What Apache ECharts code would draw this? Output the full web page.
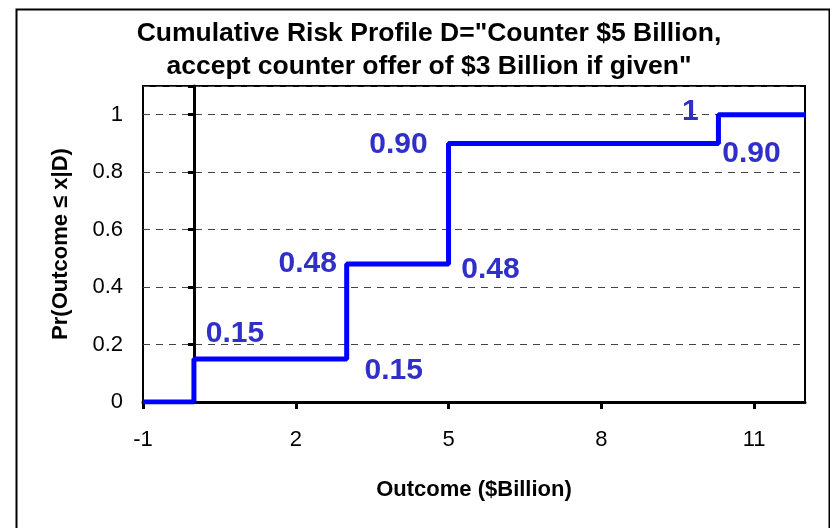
<!DOCTYPE html>
<html>
<head>
<meta charset="utf-8">
<script src="https://cdn.jsdelivr.net/npm/echarts@6/dist/echarts.min.js"></script>
<style>
  html, body { margin: 0; padding: 0; background: #fff; }
  #chart { width: 830px; height: 528px; }
</style>
</head>
<body>
<div id="chart"></div>
<script>
// Outcomes ($Billion) where the cumulative probability steps up, and the level reached
const stepOutcomes = [0, 3, 5, 10.3];
const stepProbs = [0.15, 0.48, 0.90, 1.00];

// Axis ranges and ticks
const xMin = -1, xMax = 12, xInterval = 3;
const yMin = 0, yMax = 1.1, yInterval = 0.2;

const titleText = 'Cumulative Risk Profile D="Counter $5 Billion,\naccept counter offer of $3 Billion if given"';
const xName = 'Outcome ($Billion)';
const yName = 'Pr(Outcome \u2264 x|D)';

// Step curve: starts at 0 on the left edge, ends at 1 on the right edge
const curve = [[xMin, 0]];
stepOutcomes.forEach((x, i) => curve.push([x, stepProbs[i]]));
curve.push([xMax, stepProbs[stepProbs.length - 1]]);

// Value labels sit at the corners of each riser: below-corner (previous level) and top-corner (new level)
const corners = [];
stepOutcomes.forEach((x, i) => {
  if (i > 0) corners.push([x, stepProbs[i - 1]]);
  corners.push([x, stepProbs[i]]);
});
// label offsets (px) for each corner, in the same order
const labelOffsets = [[41, -25], [47, 12], [-39, 0], [42, 6], [-50, 1], [33, 10], [-28, -3]];

const fmtProb = v => (v === 1 ? '1' : v.toFixed(2));
const FONT = "'Liberation Sans', Arial, sans-serif";

// plot box
const GRID = { left: 143, right: 25, top: 86, bottom: 126 };
const plotWidth = 830 - GRID.left - GRID.right;
// the vertical axis line is drawn through x = 0
const zeroOffset = -((0 - xMin) / (xMax - xMin)) * plotWidth;

const chart = echarts.init(document.getElementById('chart'), null, { renderer: 'canvas' });
chart.setOption({
  animation: false,
  backgroundColor: '#fff',
  textStyle: { fontFamily: FONT },
  title: {
    text: titleText,
    left: 429,
    textAlign: 'center',
    top: 17,
    padding: 0,
    textStyle: { fontFamily: FONT, fontSize: 26.5, fontWeight: 'bold', color: '#000', lineHeight: 33, align: 'center' }
  },
  graphic: [{
    type: 'rect',
    left: 14, top: 7,
    shape: { width: 813, height: 600 },
    style: { fill: 'none', stroke: '#000', lineWidth: 2 },
    silent: true
  }],
  grid: Object.assign({}, GRID, {
    show: true, borderColor: '#000', borderWidth: 2, backgroundColor: '#fff'
  }),
  xAxis: {
    type: 'value', min: xMin, max: xMax, interval: xInterval,
    name: xName, nameLocation: 'middle', nameGap: 77,
    nameTextStyle: { fontFamily: FONT, fontSize: 22, fontWeight: 'bold', color: '#000' },
    axisLine: { show: true, onZero: false, lineStyle: { color: '#000', width: 3 } },
    axisTick: { show: true, length: 7, lineStyle: { color: '#000', width: 3 } },
    axisLabel: { fontFamily: FONT, fontSize: 22, color: '#000', margin: 27, showMaxLabel: false },
    splitLine: { show: false }
  },
  yAxis: [{
    type: 'value', min: yMin, max: yMax, interval: yInterval, position: 'left',
    name: yName, nameLocation: 'middle', nameGap: 71, nameRotate: 90,
    nameTextStyle: { fontFamily: FONT, fontSize: 22, fontWeight: 'bold', color: '#000' },
    axisLine: { show: false },
    axisTick: { show: false },
    axisLabel: { fontFamily: FONT, fontSize: 22, color: '#000', margin: 20, showMaxLabel: false },
    splitLine: { show: true, lineStyle: { color: '#444', width: 1, type: [7, 6] } }
  }, {
    type: 'value', min: yMin, max: yMax, interval: yInterval, position: 'left',
    offset: zeroOffset,
    axisLine: { show: true, onZero: false, lineStyle: { color: '#000', width: 3 } },
    axisTick: { show: true, length: 6, lineStyle: { color: '#000', width: 3 } },
    axisLabel: { show: false },
    splitLine: { show: false }
  }],
  series: [{
    type: 'line',
    data: curve,
    step: 'end',
    symbol: 'none',
    lineStyle: { color: '#0000ff', width: 5 },
    z: 5
  }, {
    type: 'scatter',
    data: corners.map((c, i) => ({
      value: c,
      label: {
        show: true,
        position: 'inside',
        offset: labelOffsets[i],
        formatter: p => fmtProb(p.value[1]),
        fontFamily: FONT, fontSize: 30, fontWeight: 'bold', color: '#3030c8', opacity: 1
      }
    })),
    symbolSize: 2,
    itemStyle: { color: 'rgba(0,0,0,0)', opacity: 1 },
    z: 6,
    silent: true
  }]
});
</script>
</body>
</html>
